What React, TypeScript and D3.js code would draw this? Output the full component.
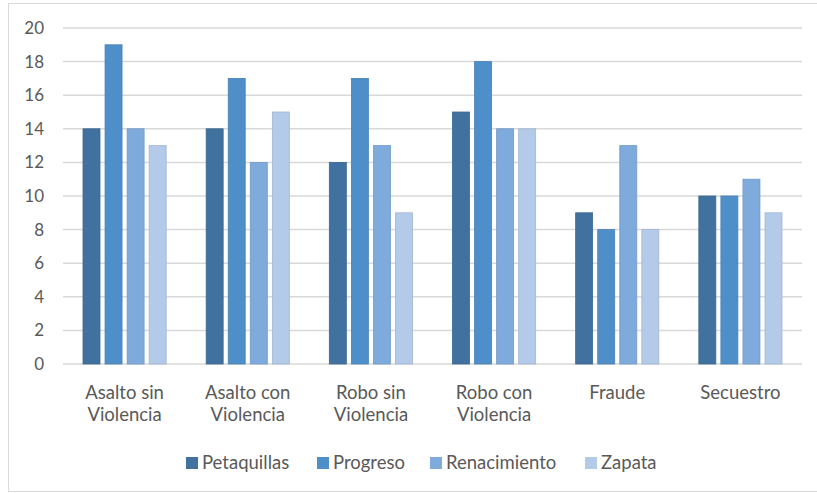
import React, { useEffect, useRef } from "react";
import * as d3 from "d3";

const categories = [
  ["Asalto sin", "Violencia"],
  ["Asalto con", "Violencia"],
  ["Robo sin", "Violencia"],
  ["Robo con", "Violencia"],
  ["Fraude"],
  ["Secuestro"],
];
const seriesNames = ["Petaquillas", "Progreso", "Renacimiento", "Zapata"];
const petaquillas = [14, 14, 12, 15, 9, 10];
const progreso = [19, 17, 17, 18, 8, 10];
const renacimiento = [14, 12, 13, 14, 13, 11];
const zapata = [13, 15, 9, 14, 8, 9];
const yTicks = [0, 2, 4, 6, 8, 10, 12, 14, 16, 18, 20];
const colors = ["#41729f", "#4f8fc9", "#7eaadc", "#b3cae8"];

const App: React.FC = () => {
  const ref = useRef<SVGSVGElement | null>(null);

  useEffect(() => {
    const width = 817;
    const height = 493;
    const margin = { top: 28, right: 15, bottom: 129, left: 63 };
    const series = [petaquillas, progreso, renacimiento, zapata];
    const font = "Lato, 'Open Sans', sans-serif";

    const svg = d3.select(ref.current);
    svg.selectAll("*").remove();

    // chart frame
    svg
      .append("rect")
      .attr("x", 8.5)
      .attr("y", 3.5)
      .attr("width", width)
      .attr("height", 488)
      .attr("fill", "#fff")
      .attr("stroke", "#d9d9d9");

    const x0 = d3
      .scaleBand<number>()
      .domain(d3.range(categories.length))
      .range([margin.left, width - margin.right]);

    const x1 = d3
      .scaleBand<number>()
      .domain(d3.range(series.length))
      .range([20, x0.bandwidth() - 20])
      .paddingInner(0.23);

    const y = d3
      .scaleLinear()
      .domain([0, 20])
      .range([height - margin.bottom, margin.top]);

    // gridlines
    svg
      .append("g")
      .selectAll("line")
      .data(yTicks)
      .enter()
      .append("line")
      .attr("x1", margin.left)
      .attr("x2", width - margin.right)
      .attr("y1", (d) => y(d))
      .attr("y2", (d) => y(d))
      .attr("stroke", "#d9d9d9")
      .attr("stroke-width", 1.5);

    // y labels
    svg
      .append("g")
      .selectAll("text")
      .data(yTicks)
      .enter()
      .append("text")
      .attr("x", 44)
      .attr("y", (d) => y(d))
      .attr("dy", "0.35em")
      .attr("text-anchor", "end")
      .attr("font-family", font)
      .attr("font-size", 17)
      .attr("fill", "#595959")
      .text((d) => d);

    // bars
    const groups = svg
      .append("g")
      .selectAll("g")
      .data(categories.map((_, i) => i))
      .enter()
      .append("g")
      .attr("transform", (i) => `translate(${x0(i)},0)`);

    groups
      .selectAll("rect")
      .data((i) => series.map((s, k) => ({ k, v: s[i] })))
      .enter()
      .append("rect")
      .attr("x", (d) => x1(d.k)!)
      .attr("y", (d) => y(d.v))
      .attr("width", x1.bandwidth())
      .attr("height", (d) => y(0) - y(d.v))
      .attr("fill", (d) => colors[d.k])
      .attr("stroke", (d) => d3.color(colors[d.k])!.darker(0.3).toString())
      .attr("stroke-width", 0.8);

    // category labels
    const catLabels = svg
      .append("g")
      .selectAll("text")
      .data(categories)
      .enter()
      .append("text")
      .attr("x", (_, i) => x0(i)! + x0.bandwidth() / 2)
      .attr("y", 399)
      .attr("text-anchor", "middle")
      .attr("font-family", font)
      .attr("font-size", 18.5)
      .attr("fill", "#595959");
    catLabels
      .selectAll("tspan")
      .data((d) => d)
      .enter()
      .append("tspan")
      .attr("x", function () {
        return (this.parentNode as SVGTextElement).getAttribute("x");
      })
      .attr("dy", (_, j) => (j === 0 ? 0 : 22))
      .text((d) => d);

    // legend
    const legendX = [186, 317, 430, 585];
    const legend = svg
      .append("g")
      .selectAll("g")
      .data(seriesNames)
      .enter()
      .append("g")
      .attr("transform", (_, i) => `translate(${legendX[i]},463)`);
    legend
      .append("rect")
      .attr("x", 0)
      .attr("y", -6)
      .attr("width", 12)
      .attr("height", 12)
      .attr("fill", (_, i) => colors[i]);
    legend
      .append("text")
      .attr("x", 16)
      .attr("dy", "0.35em")
      .attr("font-family", font)
      .attr("font-size", 18.5)
      .attr("fill", "#595959")
      .text((d) => d);
  }, []);

  return (
    <svg
      ref={ref}
      width={817}
      height={493}
      style={{ position: "absolute", left: 0, top: 0, background: "#fff" }}
    />
  );
};

export default App;
